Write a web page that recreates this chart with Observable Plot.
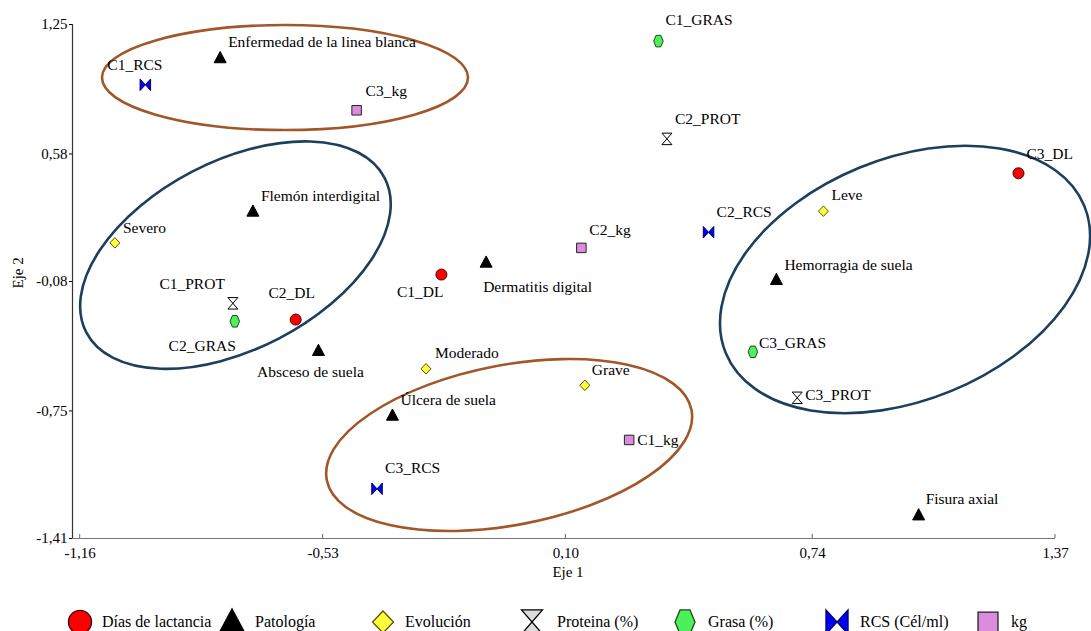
<!DOCTYPE html>
<html>
<head>
<meta charset="utf-8">
<script src="https://cdn.jsdelivr.net/npm/d3@7"></script>
<script src="https://cdn.jsdelivr.net/npm/@observablehq/plot@0.6"></script>
<style>
  html, body { margin: 0; padding: 0; background: #fff; }
  #chart { width: 1091px; }
  #chart svg, #chart text { font-family: "Liberation Serif", "Times New Roman", Tinos, "DejaVu Serif", serif !important; }
  #legend { position: relative; width: 1091px; height: 36px; font-family: "Liberation Serif", "Times New Roman", Tinos, "DejaVu Serif", serif; font-size: 16px; color: #000; }
  #legend .sym { position: absolute; }
  #legend .lab { position: absolute; line-height: 1; white-space: nowrap; }
</style>
</head>
<body>
<div id="chart"></div>
<div id="legend"></div>
<script>
// ---- Data ----
const names = [
  "C1_DL", "C2_DL", "C3_DL",
  "Enfermedad de la linea blanca", "Flemón interdigital", "Absceso de suela", "Úlcera de suela",
  "Dermatitis digital", "Hemorragia de suela", "Fisura axial",
  "Severo", "Moderado", "Grave", "Leve",
  "C1_PROT", "C2_PROT", "C3_PROT",
  "C1_GRAS", "C2_GRAS", "C3_GRAS",
  "C1_RCS", "C2_RCS", "C3_RCS",
  "C1_kg", "C2_kg", "C3_kg"
];
const groups = [
  "Días de lactancia", "Días de lactancia", "Días de lactancia",
  "Patología", "Patología", "Patología", "Patología", "Patología", "Patología", "Patología",
  "Evolución", "Evolución", "Evolución", "Evolución",
  "Proteina (%)", "Proteina (%)", "Proteina (%)",
  "Grasa (%)", "Grasa (%)", "Grasa (%)",
  "RCS (Cél/ml)", "RCS (Cél/ml)", "RCS (Cél/ml)",
  "kg", "kg", "kg"
];
const eje1 = [
  -0.223, -0.601, 1.274,
  -0.797, -0.712, -0.542, -0.350, -0.107, 0.646, 1.015,
  -1.070, -0.263, 0.149, 0.768,
  -0.764, 0.362, 0.700,
  0.340, -0.759, 0.585,
  -0.991, 0.470, -0.390,
  0.264, 0.140, -0.443
];
const eje2 = [
  -0.044, -0.277, 0.480,
  1.078, 0.284, -0.437, -0.772, 0.020, -0.070, -1.288,
  0.120, -0.532, -0.617, 0.284,
  -0.193, 0.658, -0.682,
  1.164, -0.286, -0.444,
  0.938, 0.175, -1.153,
  -0.900, 0.094, 0.806
];
const legendGroups = ["Días de lactancia", "Patología", "Evolución", "Proteina (%)", "Grasa (%)", "RCS (Cél/ml)", "kg"];
const xTicks = [-1.16, -0.53, 0.10, 0.74, 1.37];
const yTicks = [-1.41, -0.75, -0.08, 0.58, 1.25];
const xLabel = "Eje 1";
const yLabel = "Eje 2";

// ---- Styling / placement ----
const FONT = '"Liberation Serif", "Times New Roman", Tinos, "DejaVu Serif", serif';
const fmt = d => d.toFixed(2).replace(".", ",");
const fills = ["#ff0000", "#000000", "#ffff3c", "#ffffff", "#4cf05a", "#0000ff", "#dc8cdc"];
const strokes = ["#400000", "#000000", "#555500", "#000000", "#1a4a1a", "#000050", "#222222"];

// label placement: [dx, dy, anchor]
const placement = {
  "C1_DL": [2, 17, "end"], "C2_DL": [-4, -27, "middle"], "C3_DL": [8, -19, "start"],
  "Enfermedad de la linea blanca": [8, -16, "start"], "Flemón interdigital": [8, -15, "start"],
  "Absceso de suela": [-8, 22, "middle"], "Úlcera de suela": [8, -15, "start"],
  "Dermatitis digital": [-3, 25, "start"], "Hemorragia de suela": [8, -15, "start"],
  "Fisura axial": [7, -16, "start"],
  "Severo": [8, -15, "start"], "Moderado": [9, -16, "start"], "Grave": [7, -15, "start"], "Leve": [8, -16, "start"],
  "C1_PROT": [-8, -19, "end"], "C2_PROT": [8, -20, "start"], "C3_PROT": [8, -3, "start"],
  "C1_GRAS": [7, -21, "start"], "C2_GRAS": [1, 25, "end"], "C3_GRAS": [6, -9, "start"],
  "C1_RCS": [-38, -20, "start"], "C2_RCS": [8, -20, "start"], "C3_RCS": [8, -21, "start"],
  "C1_kg": [8, 0, "start"], "C2_kg": [8, -18, "start"], "C3_kg": [9, -19, "start"]
};

// ellipses: center in data units, semi-axes in px, rotation deg
const ellipses = [
  {cx: -0.6275, cy: 0.973, a: 183, b: 52.5, angle: 0, color: "#a0582a"},
  {cx: -0.756, cy: 0.054, a: 168, b: 94, angle: -27.4, color: "#1c3f5c"},
  {cx: -0.046, cy: -0.929, a: 185.7, b: 80, angle: -10.85, color: "#a0582a"},
  {cx: 0.981, cy: -0.072, a: 193.8, b: 120.7, angle: -22.3, color: "#1c3f5c"}
];

// ---- Custom symbols (scale relative to r) ----
const rOf = size => Math.sqrt(size / Math.PI);
const symCircle = {draw(c, size) { const r = rOf(size) * 1.1; c.moveTo(r, 0); c.arc(0, 0, r, 0, 2 * Math.PI); c.closePath(); }};
const symTriangle = {draw(c, size) { const r = rOf(size); c.moveTo(0, -1.25 * r); c.lineTo(1.2 * r, 1.0 * r); c.lineTo(-1.2 * r, 1.0 * r); c.closePath(); }};
const symDiamond = {draw(c, size) { const r = rOf(size); c.moveTo(0, -1.05 * r); c.lineTo(1.0 * r, 0); c.lineTo(0, 1.05 * r); c.lineTo(-1.0 * r, 0); c.closePath(); }};
const symHourglass = {draw(c, size) { const r = rOf(size); const w = 1.0 * r, h = 1.15 * r; c.moveTo(-w, -h); c.lineTo(w, -h); c.lineTo(-w, h); c.lineTo(w, h); c.closePath(); }};
const symHexagon = {draw(c, size) { const r = rOf(size); const w = 0.95 * r, h = 1.15 * r; c.moveTo(-0.5 * w, -h); c.lineTo(0.5 * w, -h); c.lineTo(w, 0); c.lineTo(0.5 * w, h); c.lineTo(-0.5 * w, h); c.lineTo(-w, 0); c.closePath(); }};
const symBowtie = {draw(c, size) { const r = rOf(size); const w = 1.05 * r, h = 1.15 * r; c.moveTo(-w, -h); c.lineTo(w, h); c.lineTo(w, -h); c.lineTo(-w, h); c.closePath(); }};
const symSquare = {draw(c, size) { const r = rOf(size) * 0.95; c.moveTo(-r, -r); c.lineTo(r, -r); c.lineTo(r, r); c.lineTo(-r, r); c.closePath(); }};
const symbols = [symCircle, symTriangle, symDiamond, symHourglass, symHexagon, symBowtie, symSquare];

// ---- Build table ----
const points = names.map((n, i) => ({name: n, group: groups[i], x: eje1[i], y: eje2[i]}));

const ellipseMark = (index, {x, y}) => {
  const g = d3.create("svg:g");
  for (const e of ellipses) {
    const px = x(e.cx), py = y(e.cy);
    g.append("ellipse").attr("cx", px).attr("cy", py).attr("rx", e.a).attr("ry", e.b)
      .attr("transform", `rotate(${e.angle} ${px} ${py})`)
      .attr("fill", "none").attr("stroke", e.color).attr("stroke-width", 2.6);
  }
  return g.node();
};
const xTickMark = (index, {x, y}) => {
  const g = d3.create("svg:g");
  const y0 = y(yTicks[0]);
  for (const t of xTicks) {
    g.append("line").attr("x1", x(t)).attr("x2", x(t)).attr("y1", y0).attr("y2", y0 - 4)
      .attr("stroke", "#666").attr("stroke-width", 1);
  }
  return g.node();
};

const labelMarks = points.map(p => {
  const [dx, dy, anchor] = placement[p.name];
  return Plot.text([p], {x: "x", y: "y", text: "name", dx, dy, textAnchor: anchor, fontSize: 15.5, fontFamily: FONT, fill: "#000"});
});

const chart = Plot.plot({
  width: 1091,
  height: 595,
  marginLeft: 72,
  marginRight: 36,
  marginTop: 24,
  marginBottom: 57,
  style: {fontFamily: FONT, fontSize: "15px", color: "#000", background: "#fff"},
  x: {domain: [-1.18, 1.37], ticks: xTicks, tickFormat: fmt, tickSize: 0, tickPadding: 9, label: null},
  y: {domain: [yTicks[0], yTicks[yTicks.length - 1]], ticks: yTicks, tickFormat: fmt, tickSize: 3, tickPadding: 2, label: null},
  symbol: {domain: legendGroups, range: symbols},
  color: {domain: legendGroups, range: fills},
  marks: [
    Plot.ruleY([yTicks[0]], {stroke: "#777", strokeWidth: 1.2}),
    Plot.ruleX([-1.18], {stroke: "#333", strokeWidth: 1.2}),
    xTickMark,
    ellipseMark,
    Plot.dot(points, {x: "x", y: "y", symbol: "group", fill: "group", stroke: d => strokes[legendGroups.indexOf(d.group)], r: 5, strokeWidth: 1}),
    ...labelMarks,
    Plot.text([xLabel], {frameAnchor: "bottom", text: d => d, dx: 4, dy: 38, fontSize: 15, fontFamily: FONT}),
    Plot.text([yLabel], {frameAnchor: "left", text: d => d, dx: -54, dy: 7, rotate: -90, fontSize: 15, fontFamily: FONT})
  ]
});
document.getElementById("chart").appendChild(chart);

// ---- Legend (HTML below the SVG) ----
const legendPos = [[80, 102], [232, 255], [383, 405], [532, 557], [685, 708], [837, 860], [988, 1011]];
const legend = document.getElementById("legend");
legendGroups.forEach((g, i) => {
  const [cx, tx] = legendPos[i];
  const s = 30;
  const svg = d3.create("svg").attr("class", "sym").attr("width", s).attr("height", s)
    .style("left", (cx - s / 2) + "px").style("top", (26.5 - s / 2) + "px");
  const path = d3.symbol(symbols[i], Math.PI * 10.5 * 10.5)();
  svg.append("path").attr("d", path).attr("transform", `translate(${s / 2},${s / 2})`)
    .attr("fill", i === 3 ? "#dddddd" : fills[i]).attr("stroke", strokes[i]).attr("stroke-width", 1.3);
  legend.appendChild(svg.node());
  const lab = document.createElement("div");
  lab.className = "lab";
  lab.textContent = g;
  lab.style.left = tx + "px";
  lab.style.top = "19px";
  legend.appendChild(lab);
});
</script>
</body>
</html>
